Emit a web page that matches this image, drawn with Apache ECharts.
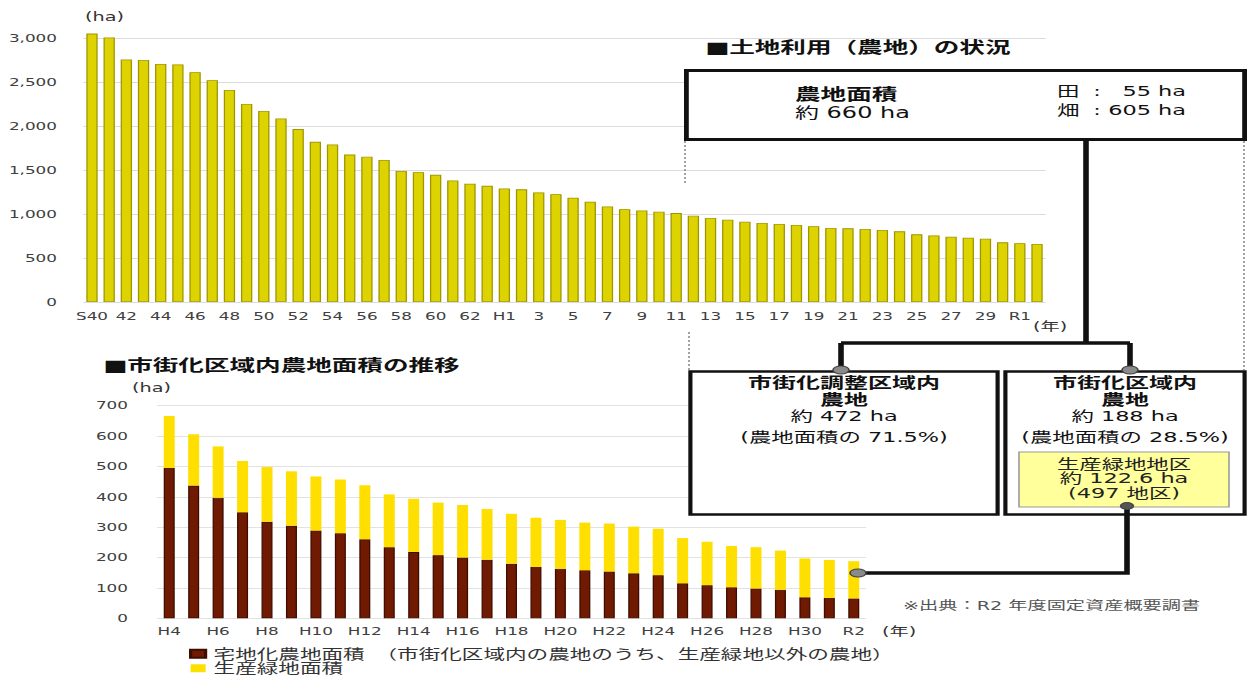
<!DOCTYPE html>
<html>
<head>
<meta charset="utf-8">
<script src="https://cdn.jsdelivr.net/npm/echarts@6/dist/echarts.min.js"></script>
<style>
  html, body { margin: 0; padding: 0; background: #fff; overflow: hidden; }
  /* the layout is authored on a narrow canvas and widened, giving the wide lettering of the sheet */
  #main { width: 780px; height: 675px; transform: scaleX(1.6); transform-origin: 0 0; }
</style>
</head>
<body>
<div id="main"></div>
<script>
// Farmland area by year (ha), S40 .. R2
const yearLabels = ['S40','41','42','43','44','45','46','47','48','49','50','51','52','53','54','55','56','57','58','59','60','61','62','63',
  'H1','2','3','4','5','6','7','8','9','10','11','12','13','14','15','16','17','18','19','20','21','22','23','24','25','26','27','28','29','30','R1','R2'];
const farmlandArea = [3050,3005,2755,2750,2705,2700,2610,2520,2410,2250,2170,2085,1965,1820,1790,1675,1650,1615,1490,1475,1445,1380,1345,1320,
  1290,1280,1245,1225,1185,1140,1085,1055,1040,1025,1010,980,954,935,912,897,886,875,860,841,837,829,818,803,769,757,742,731,719,678,667,660];

// Farmland inside the urbanization area (ha), H4 .. R2
const urbanYears = ['H4','H5','H6','H7','H8','H9','H10','H11','H12','H13','H14','H15','H16','H17','H18','H19','H20',
  'H21','H22','H23','H24','H25','H26','H27','H28','H29','H30','R1','R2'];
const residentialFarmland = [495,437,397,349,318,305,289,280,260,234,218,208,200,193,180,169,163,158,154,148,142,115,109,102,98,94,69,67,65.4];
const productiveGreen = [171,169,169,169,180,179,178,177,178,174,176,173,173,167,164,162,161,157,158,154,153,149,143,136,136,129,128,125,122.6];

const seriesNames = ['宅地化農地面積', '生産緑地面積'];
const legendNote = '　（市街化区域内の農地のうち、生産緑地以外の農地）';

const S = 1.6;                 // horizontal widening of the drawing
const X = v => v / S;          // page x -> drawing x
const FONT = '"DejaVu Sans", "Noto Sans CJK JP", sans-serif';
const font = (size, bold) => (bold ? 'bold ' : '') + size + 'px ' + FONT;

function txt(x, y, text, size, opts) {
  opts = opts || {};
  const align = opts.align || 'left';
  return {
    type: 'text', x: X(x), y: y, z: 120,
    style: {
      text: text, font: font(size, opts.bold), fill: opts.color || '#111',
      textAlign: align, align: align, textVerticalAlign: 'middle', verticalAlign: 'middle'
    }
  };
}
function seg(x1, y1, x2, y2, w, color, dash) {
  return {
    type: 'line', z: 110,
    shape: { x1: X(x1), y1: y1, x2: X(x2), y2: y2 },
    style: { stroke: color || '#111', lineWidth: w, lineDash: dash || null }
  };
}
function box(x1, y1, x2, y2, w, fill, stroke) {
  return {
    type: 'rect', z: 105,
    shape: { x: X(x1), y: y1, width: X(x2) - X(x1), height: y2 - y1 },
    style: { fill: fill || '#fff', stroke: stroke || '#111', lineWidth: w }
  };
}
function knob(x, y, rx, ry, fill) {
  return {
    type: 'ellipse', z: 130,
    shape: { cx: X(x), cy: y, rx: rx, ry: ry },
    style: { fill: fill || '#8a8a8a', stroke: '#444', lineWidth: 1 }
  };
}

const chart = echarts.init(document.getElementById('main'), null, { renderer: 'svg' });

const axisText = { fontFamily: FONT, fontSize: 10.5, color: '#404040' };

const graphics = [
  // section titles
  txt(705, 47, '■土地利用（農地）の状況', 16, { bold: true }),
  txt(103, 365, '■市街化区域内農地面積の推移', 16, { bold: true }),
  // unit captions
  txt(85, 17, '(ha)', 12, { color: '#333' }),
  txt(132, 388, '(ha)', 12, { color: '#333' }),
  txt(1033, 327, '(年)', 12, { color: '#333' }),
  txt(882, 632, '(年)', 12, { color: '#333' }),
  // source note
  txt(903, 606, '※出典：R2 年度固定資産概要調書', 12, { color: '#555' }),

  // dotted guides
  seg(685, 141, 685, 183, 1, '#8c8c8c', [2, 2]),
  seg(689, 332, 689, 370, 1, '#8c8c8c', [2, 2]),
  seg(1244, 141, 1244, 370, 1, '#8c8c8c', [2, 2]),

  // total farmland box
  box(686.4, 70.5, 1244.6, 139.5, 3),
  txt(795, 94, '農地面積', 16, { bold: true }),
  txt(795, 113, '約 660 ha', 15),
  txt(1057, 91, '田', 14),
  txt(1057, 110, '畑', 14),
  txt(1097, 91, ':', 14, { align: 'center' }),
  txt(1097, 110, ':', 14, { align: 'center' }),
  txt(1186, 91, '55 ha', 14, { align: 'right' }),
  txt(1186, 110, '605 ha', 14, { align: 'right' }),

  // branch connectors
  seg(1086, 140, 1086, 343, 3.5),
  seg(841, 343, 1130, 343, 3.5),
  seg(841, 343, 841, 370, 3.5),
  seg(1130, 343, 1130, 370, 3.5),

  // urbanization-control area box
  box(690.4, 371.5, 997.6, 514.5, 2.6),
  txt(844, 383, '市街化調整区域内', 15, { bold: true, align: 'center' }),
  txt(844, 400, '農地', 15, { bold: true, align: 'center' }),
  txt(844, 416, '約 472 ha', 14, { align: 'center' }),
  txt(844, 437, '(農地面積の 71.5%)', 14, { align: 'center' }),

  // urbanization area box
  box(1005.4, 371.5, 1244.6, 514.5, 2.6),
  txt(1125, 383, '市街化区域内', 15, { bold: true, align: 'center' }),
  txt(1125, 400, '農地', 15, { bold: true, align: 'center' }),
  txt(1125, 416, '約 188 ha', 14, { align: 'center' }),
  txt(1125, 437, '(農地面積の 28.5%)', 14, { align: 'center' }),

  // productive green zone
  box(1019, 452, 1229, 507, 1, '#ffff9c', '#9a9a9a'),
  txt(1124, 464, '生産緑地地区', 14, { align: 'center', color: '#222' }),
  txt(1124, 478, '約 122.6 ha', 14, { align: 'center', color: '#222' }),
  txt(1124, 493, '(497 地区)', 14, { align: 'center', color: '#222' }),

  // link down to the latest bar
  {
    type: 'polyline', z: 110,
    shape: { points: [[X(1127), 506], [X(1127), 573], [X(858), 573]] },
    style: { stroke: '#111', lineWidth: 3.5, fill: null }
  },
  knob(841, 370, 5, 4),
  knob(1130, 370, 5, 4),
  knob(1127, 506, 4, 3.5, '#555'),
  knob(858, 573, 5, 4)
];

chart.setOption({
  animation: false,
  backgroundColor: '#fff',
  textStyle: { fontFamily: FONT },
  grid: [
    { left: X(83.4), top: 38, width: X(1045.6) - X(83.4), height: 264 },
    { left: X(157), top: 405.7, width: X(866) - X(157), height: 212.6 }
  ],
  legend: {
    data: seriesNames,
    orient: 'vertical',
    left: X(189), top: 647,
    padding: 0, itemGap: 1,
    itemWidth: X(15), itemHeight: 8,
    icon: 'rect',
    textStyle: { fontFamily: FONT, fontSize: 13.5, color: '#333' },
    formatter: name => name === seriesNames[0] ? name + legendNote : name
  },
  xAxis: [
    {
      type: 'category', gridIndex: 0, data: yearLabels,
      axisLine: { show: false }, axisTick: { show: false },
      axisLabel: Object.assign({ interval: 1, margin: 9 }, axisText)
    },
    {
      type: 'category', gridIndex: 1, data: urbanYears,
      axisLine: { show: false }, axisTick: { show: false },
      axisLabel: Object.assign({ interval: 1, margin: 8 }, axisText)
    }
  ],
  yAxis: [
    {
      type: 'value', gridIndex: 0, min: 0, max: 3000, interval: 500,
      axisLine: { show: false }, axisTick: { show: false },
      splitLine: { lineStyle: { color: '#dcdcdc', width: 1 } },
      axisLabel: Object.assign({ margin: X(26.4), formatter: v => v.toLocaleString('en-US') }, axisText)
    },
    {
      type: 'value', gridIndex: 1, min: 0, max: 700, interval: 100,
      axisLine: { show: false }, axisTick: { show: false },
      splitLine: { lineStyle: { color: '#e2e2e2', width: 1 } },
      axisLabel: Object.assign({ margin: X(29) }, axisText)
    }
  ],
  series: [
    {
      name: '農地面積', type: 'bar', xAxisIndex: 0, yAxisIndex: 0,
      data: farmlandArea, barWidth: '66%', clip: false,
      itemStyle: { color: '#dcd300', borderColor: '#a09500', borderWidth: 0.8 }
    },
    {
      name: seriesNames[0], type: 'bar', xAxisIndex: 1, yAxisIndex: 1, stack: 'urban',
      data: residentialFarmland, barWidth: '45%',
      itemStyle: { color: '#701a02', borderColor: '#3e0c00', borderWidth: 0.8 }
    },
    {
      name: seriesNames[1], type: 'bar', xAxisIndex: 1, yAxisIndex: 1, stack: 'urban',
      data: productiveGreen, barWidth: '45%',
      itemStyle: { color: '#ffdf00' }
    }
  ],
  graphic: graphics
});
</script>
</body>
</html>
